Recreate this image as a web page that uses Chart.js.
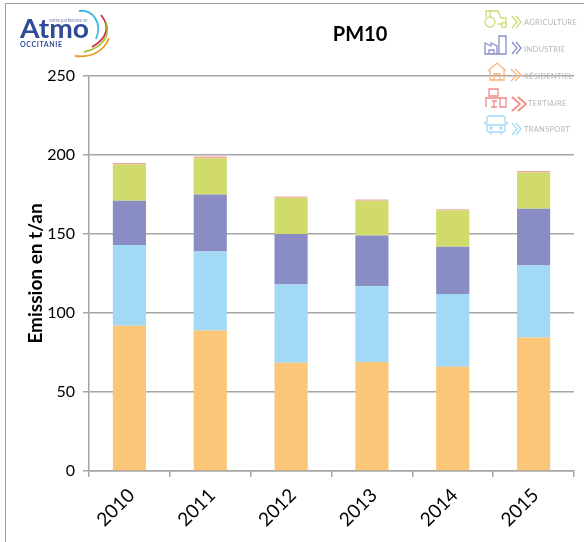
<!DOCTYPE html>
<html>
<head>
<meta charset="utf-8">
<title>PM10</title>
<script src="https://cdn.jsdelivr.net/npm/chart.js@4"></script>
<style>
  html, body { margin: 0; padding: 0; background: #fff; }
  #wrap { position: relative; width: 584px; height: 542px; overflow: hidden; font-family: Lato, sans-serif; }
  #frame { position: absolute; left: 5px; top: 3px; width: 600px; height: 600px; border: 1.5px solid #a0a0a0; box-sizing: border-box; }
  #chart { position: absolute; left: 0; top: 0; }
  #title { position: absolute; left: 300px; top: 21px; width: 120px; text-align: center; font-weight: 700; font-size: 20px; color: #000; }
  svg.deco { position: absolute; left: 0; top: 0; }
</style>
</head>
<body>
<div id="wrap">
  <div id="frame"></div>
  <canvas id="chart" width="584" height="542"></canvas>
  <div id="title">PM10</div>

  <!-- logo + picture legend, both are images in the original -->
  <svg class="deco" width="584" height="542" fill="none" font-family="Lato, sans-serif">
    <text x="20" y="38" font-size="26" font-weight="700" fill="#2f4b98" textLength="69" lengthAdjust="spacingAndGlyphs">Atmo</text>
    <text x="20" y="47" font-size="7" font-weight="700" fill="#2f4b98" textLength="42">OCCITANIE</text>
    <text x="49" y="22" font-size="5" fill="#8a93b8" textLength="39">votre partenaire air</text>
    <path d="M79 11 C92 9 103 22 96 39" stroke="#3fb6e6" stroke-width="1.8"/>
    <path d="M101 15 C110 26 108 38 92 47" stroke="#cf2f4f" stroke-width="1.8"/>
    <path d="M106 22 C111 36 102 48 84 52" stroke="#a9c23c" stroke-width="1.8"/>
    <path d="M109 38 C104 52 90 58 75 56" stroke="#ec9a29" stroke-width="1.8"/>

    <!-- agriculture -->
    <g stroke="#cfdc7a" stroke-width="1.3">
      <circle cx="490" cy="22" r="5"/><circle cx="504" cy="25" r="2.5"/>
      <path d="M486 17 V11 H498 L501 18 H506 V23 M498 24 H501 M490 11 V17"/>
      <path d="M512 16 L517 22 L512 28 M516 16 L521 22 L516 28"/>
    </g>
    <text x="524" y="25" font-size="7.5" fill="#b5b5b5" letter-spacing=".3">AGRICULTURE</text>
    <!-- industrie -->
    <g stroke="#8a90c8" stroke-width="1.3">
      <path d="M485 54 V43 L491 46 V43 L497 46 V54 Z M499 54 V36 H506 V54 Z M497 54 H499 M489 54 V50 H494 V54"/>
      <path d="M512 42 L517 48 L512 54 M516 42 L521 48 L516 54"/>
    </g>
    <text x="524" y="52" font-size="7.5" fill="#b5b5b5" letter-spacing=".3">INDUSTRIE</text>
    <!-- residentiel -->
    <g stroke="#f6b77a" stroke-width="1.3">
      <path d="M488 71 L497 63 L506 71 M490 70 V80 H504 V70 M494 80 V74 H500 V80"/>
      <path d="M511 69 L517 75 L511 81 M515 69 L521 75 L515 81"/>
    </g>
    <text x="524" y="79" font-size="7.5" fill="#b5b5b5" letter-spacing=".3">RÉSIDENTIEL</text>
    <!-- tertiaire -->
    <g stroke="#ee8b86" stroke-width="1.3">
      <path d="M489 89 H498 V96 H489 Z M485 98 H507 M486 98 V107 M492 101 H497 M494 101 V107 M491 107 H497 M500 98 V107 H506 V98"/>
      <path d="M512 97 L520 104 L512 111 M518 97 L526 104 L518 111" stroke-width="1.7"/>
    </g>
    <text x="528" y="106" font-size="7.5" fill="#b5b5b5" letter-spacing=".3">TERTIAIRE</text>
    <!-- transport -->
    <g stroke="#a6dcf6" stroke-width="1.3">
      <rect x="487" y="116" width="18" height="16" rx="2"/>
      <path d="M487 125 H505 M491 132 V135 M501 132 V135 M485 121 V125 M507 121 V125"/>
      <circle cx="491" cy="128" r="1"/><circle cx="501" cy="128" r="1"/>
      <path d="M512 123 L517 129 L512 135 M516 123 L521 129 L516 135"/>
    </g>
    <text x="524" y="132" font-size="7.5" fill="#b5b5b5" letter-spacing=".3">TRANSPORT</text>
  </svg>
</div>

<script>
const years = ["2010", "2011", "2012", "2013", "2014", "2015"];
const yTicks = [0, 50, 100, 150, 200, 250];

// t/an, bottom of the stack first
const residentiel = [92, 89, 68.5, 69, 66, 84.5];
const transport = [51, 50, 49.5, 48, 46, 45.5];
const industrie = [28, 36, 32, 32, 30, 36];
const agriculture = [23, 23, 23, 22, 23, 23];
const tertiaire = [1, 1, 0.7, 0.8, 0.6, 0.8];

function barSet(label, data, color) {
  return {
    label: label,
    data: data,
    backgroundColor: color,
    borderWidth: 0,
    barPercentage: 0.41,
    categoryPercentage: 1
  };
}

const gridGray = '#a6a6a6';

new Chart(document.getElementById('chart'), {
  type: 'bar',
  data: {
    labels: years,
    datasets: [
      barSet('Résidentiel', residentiel, '#fbc677'),
      barSet('Transport', transport, '#a2d9f7'),
      barSet('Industrie', industrie, '#8a8cc4'),
      barSet('Agriculture', agriculture, '#d1db6b'),
      barSet('Tertiaire', tertiaire, '#f7a6a0')
    ]
  },
  options: {
    responsive: false,
    animation: false,
    layout: { padding: { left: 0, top: 76, right: 10, bottom: 0 } },
    plugins: {
      legend: { display: false },
      title: { display: false },
      tooltip: { enabled: false }
    },
    scales: {
      x: {
        stacked: true,
        afterFit: scale => { scale.height = 71; },
        border: { color: gridGray, width: 1.5 },
        grid: { drawOnChartArea: false, color: gridGray, lineWidth: 1.5, tickLength: 6 },
        ticks: { color: '#000', font: { family: 'Lato', size: 19 }, minRotation: 45, maxRotation: 45, padding: 7, labelOffset: 2 }
      },
      y: {
        stacked: true,
        min: 0,
        max: 250,
        afterFit: scale => { scale.width = 89; },
        afterBuildTicks: scale => { scale.ticks = yTicks.map(v => ({ value: v })); },
        border: { color: gridGray, width: 1.5 },
        grid: { color: gridGray, lineWidth: 1.5, tickLength: 6 },
        title: {
          display: true,
          text: 'Emission en t/an',
          color: '#000',
          font: { family: 'Lato', size: 19, weight: '700' },
          padding: { top: 24, bottom: 8 }
        },
        ticks: { color: '#000', font: { family: 'Lato', size: 16 }, padding: 8 }
      }
    }
  }
});
</script>
</body>
</html>
